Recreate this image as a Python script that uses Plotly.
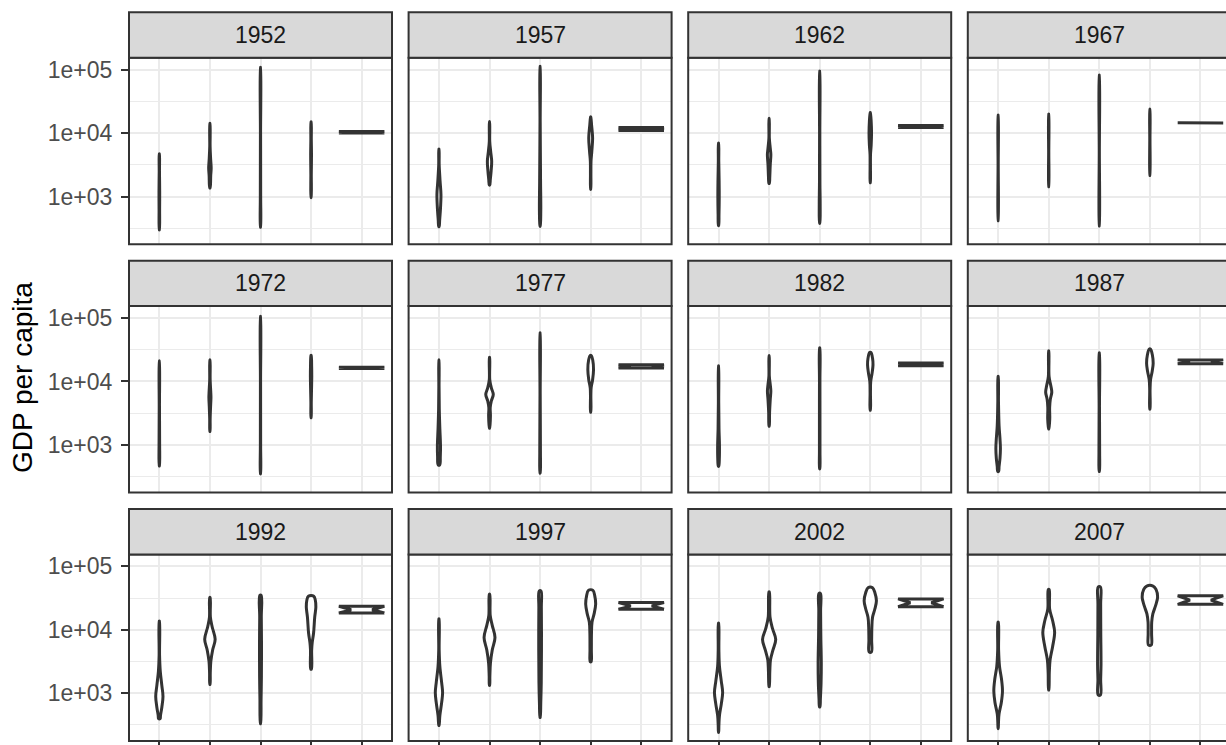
import numpy as np
import plotly.graph_objects as go

# ---------------- data ----------------
YEARS = [1952, 1957, 1962, 1967, 1972, 1977, 1982, 1987, 1992, 1997, 2002, 2007]
CONTINENTS = ["Africa", "Americas", "Asia", "Europe", "Oceania"]
Y_TICKS = [1e3, 1e4, 1e5]
Y_TICK_LABELS = ["1e+03", "1e+04", "1e+05"]

# violin outlines:
# each pair = (log10 of GDP per capita, violin width relative to the widest violin of the panel)
V1952 = {
    "Africa":   [(3.675, 0.003), (3.40, 0.006), (3.08, 0.015), (2.80, 0.012), (2.475, 0.003)],
    "Americas": [(4.153, 0.003), (3.79, 0.008), (3.60, 0.03), (3.45, 0.055), (3.33, 0.035), (3.135, 0.008)],
    "Asia":     [(5.036, 0.002), (4.0, 0.004), (3.0, 0.008), (2.517, 0.003)],
    "Europe":   [(4.179, 0.003), (3.9, 0.01), (3.66, 0.018), (3.35, 0.01), (2.984, 0.003)],
}
V1957 = {
    "Africa":   [(3.748, 0.003), (3.504, 0.01), (3.244, 0.05), (3.036, 0.088), (2.829, 0.07), (2.621, 0.03), (2.526, 0.01)],
    "Americas": [(4.179, 0.003), (3.868, 0.01), (3.712, 0.05), (3.556, 0.095), (3.40, 0.07), (3.27, 0.035), (3.182, 0.01)],
    "Asia":     [(5.055, 0.002), (4.179, 0.005), (3.244, 0.02), (2.777, 0.03), (2.532, 0.005)],
    "Europe":   [(4.257, 0.003), (4.127, 0.04), (3.919, 0.085), (3.712, 0.05), (3.556, 0.015), (3.348, 0.01), (3.114, 0.003)],
}
V1962 = {
    "Africa":   [(3.842, 0.003), (3.556, 0.01), (3.244, 0.025), (2.984, 0.03), (2.725, 0.02), (2.543, 0.005)],
    "Americas": [(4.231, 0.003), (3.919, 0.01), (3.764, 0.05), (3.66, 0.076), (3.504, 0.05), (3.322, 0.03), (3.208, 0.008)],
    "Asia":     [(4.98, 0.002), (4.0, 0.006), (3.2, 0.01), (2.88, 0.02), (2.579, 0.005)],
    "Europe":   [(4.325, 0.003), (4.179, 0.04), (3.997, 0.055), (3.816, 0.04), (3.66, 0.01), (3.452, 0.008), (3.218, 0.003)],
}
V1967 = {
    "Africa":   [(4.283, 0.002), (3.5, 0.004), (2.621, 0.002)],
    "Americas": [(4.299, 0.002), (3.7, 0.004), (3.156, 0.002)],
    "Asia":     [(4.917, 0.002), (3.7, 0.003), (2.538, 0.002)],
    "Europe":   [(4.377, 0.002), (3.9, 0.005), (3.333, 0.002)],
}
V1972 = {
    "Africa":   [(4.323, 0.002), (3.6, 0.006), (3.047, 0.012), (2.669, 0.004)],
    "Americas": [(4.339, 0.003), (4.028, 0.01), (3.848, 0.035), (3.744, 0.045), (3.615, 0.03), (3.408, 0.01), (3.212, 0.003)],
    "Asia":     [(5.026, 0.002), (4.0, 0.004), (3.0, 0.006), (2.545, 0.003)],
    "Europe":   [(4.411, 0.005), (4.235, 0.025), (4.08, 0.03), (3.873, 0.02), (3.667, 0.008), (3.43, 0.003)],
}
V1977 = {
    "Africa":   [(4.339, 0.002), (3.925, 0.005), (3.563, 0.015), (3.253, 0.04), (2.995, 0.068), (2.814, 0.06), (2.685, 0.035)],
    "Americas": [(4.38, 0.005), (4.028, 0.01), (3.899, 0.08), (3.796, 0.165), (3.693, 0.08), (3.589, 0.03), (3.46, 0.04), (3.264, 0.005)],
    "Asia":     [(4.767, 0.002), (3.8, 0.005), (2.891, 0.015), (2.556, 0.005)],
    "Europe":   [(4.411, 0.02), (4.339, 0.09), (4.183, 0.125), (4.028, 0.085), (3.899, 0.02), (3.77, 0.008), (3.517, 0.005)],
}
V1982 = {
    "Africa":   [(4.245, 0.002), (3.667, 0.008), (3.253, 0.02), (2.995, 0.04), (2.788, 0.035), (2.664, 0.01)],
    "Americas": [(4.406, 0.003), (4.08, 0.01), (3.951, 0.05), (3.848, 0.075), (3.718, 0.05), (3.512, 0.02), (3.295, 0.005)],
    "Asia":     [(4.53, 0.005), (4.0, 0.01), (3.3, 0.012), (2.9, 0.012), (2.623, 0.005)],
    "Europe":   [(4.457, 0.03), (4.364, 0.1), (4.261, 0.12), (4.132, 0.08), (4.003, 0.02), (3.822, 0.008), (3.548, 0.005)],
}
V1987 = {
    "Africa":   [(4.081, 0.004), (3.667, 0.015), (3.305, 0.04), (3.098, 0.08), (2.943, 0.1), (2.788, 0.08), (2.659, 0.04), (2.582, 0.02)],
    "Americas": [(4.483, 0.004), (4.08, 0.015), (3.935, 0.09), (3.832, 0.135), (3.718, 0.07), (3.589, 0.04), (3.408, 0.045), (3.253, 0.005)],
    "Asia":     [(4.452, 0.004), (3.6, 0.008), (2.891, 0.015), (2.582, 0.005)],
    "Europe":   [(4.509, 0.03), (4.416, 0.11), (4.287, 0.145), (4.158, 0.1), (4.028, 0.03), (3.873, 0.008), (3.563, 0.005)],
}
V1992 = {
    "Africa":   [(4.137, 0.005), (3.6, 0.01), (3.35, 0.04), (3.12, 0.11), (2.95, 0.16), (2.78, 0.11), (2.65, 0.05), (2.60, 0.035)],
    "Americas": [(4.509, 0.01), (4.199, 0.02), (4.044, 0.1), (3.85, 0.23), (3.682, 0.12), (3.501, 0.04), (3.32, 0.015), (3.14, 0.005)],
    "Asia":     [(4.545, 0.03), (4.199, 0.035), (3.682, 0.045), (3.269, 0.04), (2.907, 0.025), (2.52, 0.005)],
    "Europe":   [(4.53, 0.12), (4.47, 0.185), (4.36, 0.21), (4.2, 0.16), (3.95, 0.11), (3.8, 0.05), (3.68, 0.025), (3.38, 0.015)],
}
V1997 = {
    "Africa":   [(4.173, 0.005), (3.682, 0.01), (3.424, 0.04), (3.165, 0.12), (3.01, 0.16), (2.855, 0.12), (2.649, 0.04), (2.494, 0.005)],
    "Americas": [(4.561, 0.01), (4.225, 0.03), (4.07, 0.12), (3.879, 0.24), (3.682, 0.12), (3.475, 0.04), (3.269, 0.015), (3.124, 0.005)],
    "Asia":     [(4.612, 0.04), (4.354, 0.055), (3.682, 0.06), (3.165, 0.05), (2.855, 0.03), (2.618, 0.005)],
    "Europe":   [(4.622, 0.1), (4.535, 0.18), (4.406, 0.22), (4.251, 0.15), (4.121, 0.06), (3.941, 0.035), (3.682, 0.03), (3.496, 0.02)],
}
V2002 = {
    "Africa":   [(4.106, 0.005), (3.682, 0.015), (3.424, 0.04), (3.191, 0.12), (3.01, 0.18), (2.829, 0.12), (2.649, 0.04), (2.494, 0.015), (2.383, 0.003)],
    "Americas": [(4.597, 0.01), (4.199, 0.04), (4.018, 0.15), (3.848, 0.29), (3.682, 0.17), (3.527, 0.06), (3.346, 0.03), (3.103, 0.005)],
    "Asia":     [(4.571, 0.035), (4.302, 0.04), (3.889, 0.05), (3.475, 0.07), (3.165, 0.06), (2.907, 0.03), (2.786, 0.01)],
    "Europe":   [(4.664, 0.1), (4.587, 0.2), (4.457, 0.27), (4.328, 0.2), (4.199, 0.1), (4.044, 0.07), (3.837, 0.06), (3.651, 0.05)],
}
V2007 = {
    "Africa":   [(4.121, 0.008), (3.682, 0.02), (3.424, 0.06), (3.217, 0.15), (3.036, 0.19), (2.855, 0.14), (2.674, 0.04), (2.545, 0.015), (2.444, 0.003)],
    "Americas": [(4.633, 0.02), (4.33, 0.04), (4.147, 0.17), (3.96, 0.26), (3.734, 0.17), (3.527, 0.06), (3.32, 0.025), (3.05, 0.005)],
    "Asia":     [(4.675, 0.05), (4.406, 0.06), (3.941, 0.065), (3.45, 0.075), (3.217, 0.06), (2.975, 0.05)],
    "Europe":   [(4.69, 0.14), (4.638, 0.27), (4.515, 0.34), (4.38, 0.25), (4.25, 0.13), (4.121, 0.08), (3.941, 0.075), (3.76, 0.06)],
}
VIOLINS = [V1952, V1957, V1962, V1967, V1972, V1977, V1982, V1987, V1992, V1997, V2002, V2007]

# Oceania has two countries; its violin spans between them
OCEANIA_AUS = [10039.6, 10949.6, 12217.2, 14526.1, 16788.6, 18334.2, 19477.0, 21888.9, 23424.8, 26997.9, 30687.8, 34435.4]
OCEANIA_NZ = [10556.6, 12247.4, 13175.7, 14463.9, 16046.0, 16233.7, 17632.4, 19007.2, 18363.3, 21050.4, 23189.8, 25185.0]
OCEANIA_WIDTHS = [1.0, 0.73, 0.46, 0.73, 1.0]  # relative width from low to high end

# ---------------- styling / layout ----------------
W, H = 1226, 745
LEFT0, COL_STEP, PANEL_W = 129.0, 279.6, 263.0
TOP0, ROW_STEP, PANEL_H, STRIP_H = 57.7, 248.35, 186.5, 45.4
XMIN, XSPAN = 0.4, 5.2
YRANGE = [2.2487, 5.1888]
HALF_MAX = 0.45
LINE_C = "#333333"
GRID_C = "#EBEBEB"
FONT = "Liberation Sans, Arial, sans-serif"

fig = go.Figure()
layout = dict(
    width=W, height=H, margin=dict(l=0, r=0, t=0, b=0),
    paper_bgcolor="white", plot_bgcolor="white", template="none",
    showlegend=False, font=dict(family=FONT),
)
shapes, annotations = [], []


def outline(idx, pts):
    pts = sorted(pts, key=lambda p: p[0])
    L = np.array([p[0] for p in pts])
    w = np.array([p[1] for p in pts]) * HALF_MAX
    xs = np.concatenate([idx + w, (idx - w)[::-1], [idx + w[0]]])
    ys = np.concatenate([10 ** L, (10 ** L)[::-1], [10 ** L[0]]])
    return xs, ys


for i, year in enumerate(YEARS):
    r, c = divmod(i, 4)
    left = LEFT0 + c * COL_STEP
    right = left + PANEL_W
    vis_right = min(right, W)
    top = TOP0 + r * ROW_STEP
    bottom = top + PANEL_H
    sfx = "" if i == 0 else str(i + 1)
    xr = [XMIN, XMIN + (vis_right - left) / PANEL_W * XSPAN]

    layout["xaxis" + sfx] = dict(
        domain=[left / W, vis_right / W], range=xr, anchor="y" + sfx,
        tickvals=[1, 2, 3, 4, 5], ticktext=CONTINENTS, showticklabels=False,
        ticks="outside" if r == 2 else "", ticklen=7, tickwidth=2, tickcolor=LINE_C,
        showgrid=True, gridcolor=GRID_C, gridwidth=2, zeroline=False, showline=False,
        automargin=False, fixedrange=True,
    )
    layout["yaxis" + sfx] = dict(
        domain=[1 - bottom / H, 1 - top / H], type="log", range=YRANGE, anchor="x" + sfx,
        tickvals=Y_TICKS, ticktext=Y_TICK_LABELS, showticklabels=(c == 0),
        ticks="outside" if c == 0 else "", ticklen=7, tickwidth=2, tickcolor=LINE_C,
        ticklabelstandoff=4,
        tickfont=dict(size=23, color="#4D4D4D", family=FONT),
        showgrid=True, gridcolor=GRID_C, gridwidth=2, zeroline=False, showline=False,
        minor=dict(tickvals=[10 ** 2.5, 10 ** 3.5, 10 ** 4.5], showgrid=True,
                   gridcolor=GRID_C, gridwidth=1.1, ticks=""),
        automargin=False, fixedrange=True,
    )

    # violins
    for j, cont in enumerate(CONTINENTS):
        idx = j + 1
        if cont == "Oceania":
            lo = np.log10(min(OCEANIA_AUS[i], OCEANIA_NZ[i]))
            hi = np.log10(max(OCEANIA_AUS[i], OCEANIA_NZ[i]))
            pts = list(zip(np.linspace(lo, hi, len(OCEANIA_WIDTHS)), OCEANIA_WIDTHS))
            shape = "linear"
        else:
            pts = VIOLINS[i][cont]
            shape = "spline"
        xs, ys = outline(idx, pts)
        fig.add_trace(go.Scatter(
            x=xs, y=ys, xaxis="x" + sfx, yaxis="y" + sfx, mode="lines",
            fill="toself", fillcolor="white",
            line=dict(color=LINE_C, width=3, shape=shape, smoothing=1.0),
            hoverinfo="skip", showlegend=False,
        ))

    # panel border
    shapes.append(dict(type="rect", xref="paper", yref="paper",
                       x0=left / W, x1=right / W, y0=1 - bottom / H, y1=1 - top / H,
                       line=dict(color=LINE_C, width=2), fillcolor="rgba(0,0,0,0)", layer="above"))
    # strip
    shapes.append(dict(type="rect", xref="paper", yref="paper",
                       x0=left / W, x1=right / W, y0=1 - top / H, y1=1 - (top - STRIP_H) / H,
                       line=dict(color=LINE_C, width=2), fillcolor="#D9D9D9", layer="above"))
    annotations.append(dict(text=str(year), xref="paper", yref="paper",
                            x=(left + right) / 2 / W, y=1 - (top - STRIP_H / 2) / H,
                            xanchor="center", yanchor="middle", showarrow=False,
                            font=dict(size=23, color="#1A1A1A", family=FONT)))

annotations.append(dict(text="GDP per capita", xref="paper", yref="paper",
                        x=22 / W, y=1 - 378 / H, textangle=-90,
                        xanchor="center", yanchor="middle", showarrow=False,
                        font=dict(size=28, color="black", family=FONT)))

layout["shapes"] = shapes
layout["annotations"] = annotations
fig.update_layout(**layout)
fig.write_html("out.html")
